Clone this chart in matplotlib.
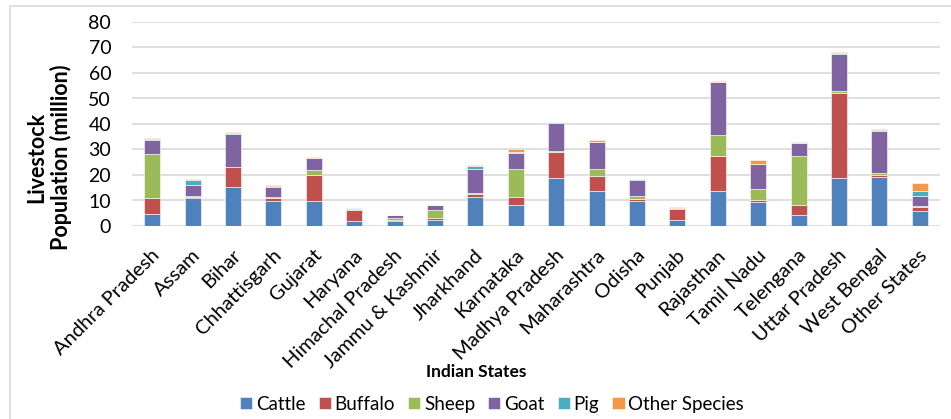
import numpy as np
import matplotlib
matplotlib.use('Agg')
import matplotlib.pyplot as plt
from matplotlib.patches import Rectangle
import matplotlib.transforms as mtransforms

plt.rcParams['font.family'] = ['Lato', 'DejaVu Sans']

states = ['Andhra Pradesh', 'Assam', 'Bihar', 'Chhattisgarh', 'Gujarat', 'Haryana',
          'Himachal Pradesh', 'Jammu & Kashmir', 'Jharkhand', 'Karnataka',
          'Madhya Pradesh', 'Maharashtra', 'Odisha', 'Punjab', 'Rajasthan',
          'Tamil Nadu', 'Telengana', 'Uttar Pradesh', 'West Bengal', 'Other States']

# livestock population in million
cattle  = [4.6, 10.9, 15.4, 9.9, 9.7, 1.9, 1.8, 2.5, 11.2, 8.4, 18.7, 13.9, 9.8, 2.5, 13.9, 9.5, 4.2, 19.0, 19.2, 5.8]
buffalo = [6.2, 0.4, 7.7, 1.1, 10.4, 4.3, 0.7, 0.7, 1.3, 3.0, 10.3, 5.6, 0.7, 4.0, 13.7, 0.5, 4.2, 33.0, 0.7, 1.6]
sheep   = [17.6, 0.3, 0.2, 0.2, 1.8, 0.3, 0.8, 3.2, 0.6, 11.1, 0.3, 2.7, 1.3, 0.1, 7.9, 4.5, 19.1, 1.0, 0.9, 0.3]
goat    = [5.5, 4.3, 12.8, 4.0, 4.9, 0.3, 1.1, 1.7, 9.1, 6.2, 11.1, 10.6, 6.4, 0.3, 20.8, 9.9, 4.9, 14.5, 16.3, 3.9]
pig     = [0.1, 2.1, 0.3, 0.5, 0.0, 0.1, 0.0, 0.0, 1.3, 0.3, 0.2, 0.3, 0.3, 0.1, 0.2, 0.1, 0.2, 0.4, 0.5, 2.3]
other   = [0.6, 0.6, 0.3, 0.2, 0.1, 0.2, 0.1, 0.2, 0.4, 1.0, 0.3, 0.6, 0.1, 0.3, 0.5, 1.2, 0.4, 0.5, 0.3, 3.0]

series = [('Cattle', cattle, '#4F81BD'), ('Buffalo', buffalo, '#C0504D'),
          ('Sheep', sheep, '#9BBB59'), ('Goat', goat, '#8064A2'),
          ('Pig', pig, '#4BACC6'), ('Other Species', other, '#F79646')]

fig = plt.figure(figsize=(9.51, 4.19), dpi=100)
ax = fig.add_axes([132/951, 1-226/419, 808/951, 204/419])

x = np.arange(len(states))
bottom = np.zeros(len(states))
for name, vals, col in series:
    vals = np.array(vals)
    ax.bar(x, vals, 0.4, bottom=bottom, color=col, label=name,
           edgecolor='white', linewidth=0.4, zorder=3)
    bottom += vals

ax.set_xlim(-0.5, len(states) - 0.5)
ax.set_ylim(0, 80)
ax.set_yticks(range(0, 81, 10))
ax.grid(axis='y', color='#D9D9D9', linewidth=1.2, zorder=0)
for s in ax.spines.values():
    s.set_visible(False)
ax.tick_params(axis='y', length=0, pad=15, labelsize=14, colors='#000000')
ax.tick_params(axis='x', length=0, pad=19)
ax.set_xticks(x)
ax.set_xticklabels(states, rotation=45, ha='right', va='center',
                   rotation_mode='anchor', fontsize=14.5)
# nudge the slanted labels a bit to the right, like Excel does
shift = mtransforms.ScaledTranslation(5/100, 0, fig.dpi_scale_trans)
for lab in ax.get_xticklabels():
    lab.set_transform(lab.get_transform() + shift)

fig.text(476/951, 1-372/419, 'Indian States', ha='center', va='center',
         fontsize=12.5, fontweight='bold')
fig.text(49/951, 1-157/419, 'Livestock\nPopulation (million)', ha='center',
         va='center', rotation=90, fontsize=15.5, fontweight='bold', linespacing=1.15)

fig.legend(loc='center', bbox_to_anchor=(492/951, 1-404/419), ncol=6, frameon=False,
           fontsize=13.5, handlelength=0.65, handleheight=0.65, handletextpad=0.2,
           columnspacing=0.7)

# chart-area border
fig.patches.append(Rectangle((10/951, -0.01), 1.0, 1-6/419 + 0.01, transform=fig.transFigure,
                             fill=False, edgecolor='#D9D9D9', linewidth=1.2))

fig.savefig('out.png', dpi=100)
